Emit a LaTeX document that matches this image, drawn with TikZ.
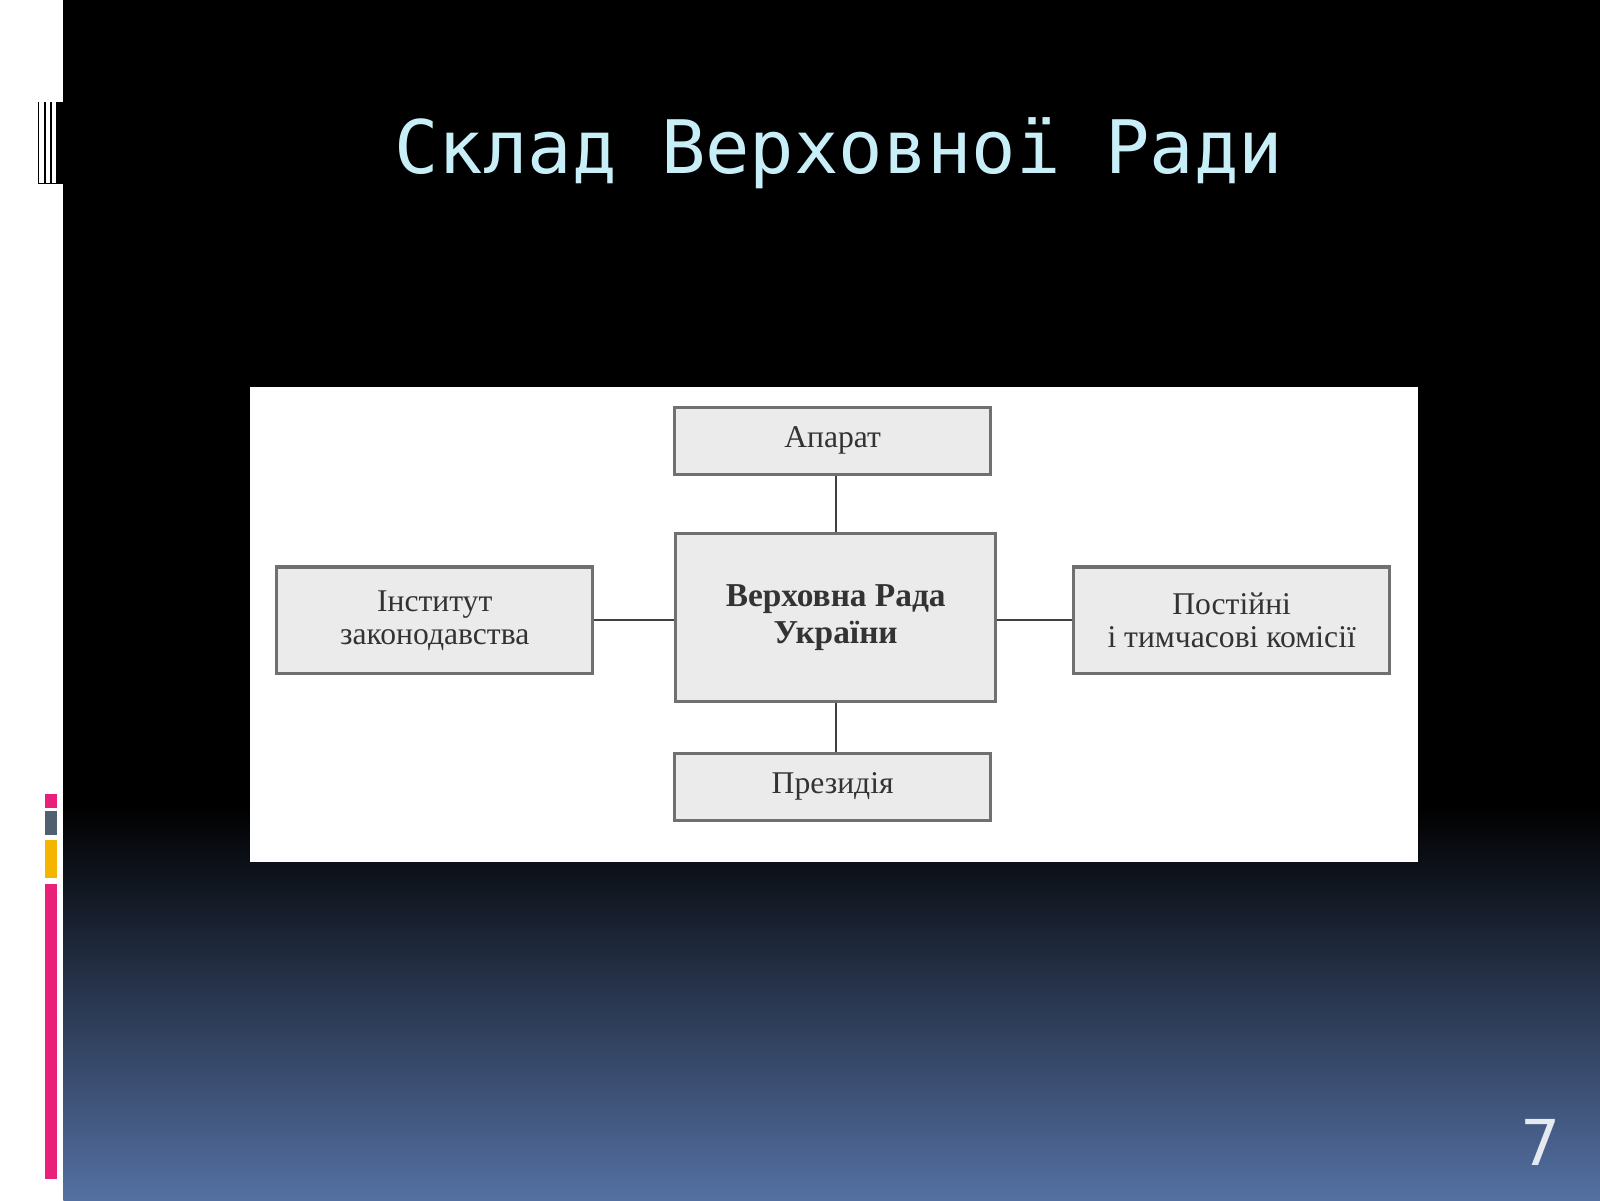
\documentclass[tikz,border=0pt]{standalone}
\usepackage{fontspec}
\setmainfont{Liberation Serif}
\newfontfamily\titlefont{DejaVu Sans Mono}
\newfontfamily\numfont{DejaVu Sans}
\definecolor{titlec}{HTML}{C8EEF8}
\definecolor{botblue}{HTML}{5470A2}
\definecolor{boxfill}{HTML}{EBEBEB}
\definecolor{boxline}{HTML}{707070}
\definecolor{txt}{HTML}{333333}
\definecolor{pinkc}{HTML}{E8207A}
\definecolor{goldc}{HTML}{F5B400}
\definecolor{slatec}{HTML}{506070}
\begin{document}
\begin{tikzpicture}[x=0.010204cm,y=-0.010204cm,
  bx/.style={draw=boxline,line width=0.9pt,fill=boxfill,inner sep=0pt,text=txt,align=center,font=\fontsize{9}{9.5}\selectfont},
  ln/.style={draw=black!75,line width=0.6pt}]
\useasboundingbox (0,0) rectangle (1568,1176);
\fill[black] (0,0) rectangle (1568,1176);
\shade[top color=black,bottom color=botblue] (62,790) rectangle (1568,1176);
\fill[black] (62,0) rectangle (1568,790);
\fill[white] (0,0) rectangle (62,1176);
% left decoration
\foreach \x in {38,44,50,56} \draw[black,line width=0.4pt] (\x,100) -- (\x,180);
\fill[black] (56,100) rectangle (62,180);
\draw[black,line width=0.4pt] (38,180) -- (62,180);
\fill[pinkc] (44,778) rectangle (56,792);
\fill[slatec] (44,795) rectangle (56,818);
\fill[goldc] (44,823) rectangle (56,860);
\fill[pinkc] (44,866) rectangle (56,1155);
% title
\node[text=titlec,font=\titlefont\fontsize{21}{21}\selectfont] (title) at (822,150) {Склад Верховної Ради};
\node[text=white!85!botblue,font=\numfont\fontsize{18}{18}\selectfont] (num) at (1510,1120) {7};
% diagram
\fill[white] (245,379) rectangle (1390,845);
\node[bx,minimum width=3.16cm,minimum height=0.67cm] (ap) at (816,432) {Апарат};
\node[bx,minimum width=3.2cm,minimum height=1.68cm,font=\bfseries\fontsize{9.5}{10.5}\selectfont] (vr) at (819,605) {Верховна Рада\\України};
\node[bx,minimum width=3.16cm,minimum height=1.07cm] (in) at (426,608) {Інститут\\законодавства};
\node[bx,minimum width=3.16cm,minimum height=1.07cm] (pk) at (1207,608) {Постійні\\і тимчасові комісії};
\node[bx,minimum width=3.16cm,minimum height=0.67cm] (pr) at (816,771) {Президія};
\draw[ln] (ap.south -| vr) -- (vr.north);
\draw[ln] (vr.south) -- (pr.north -| vr);
\draw[ln] (in.east) -- (vr.west |- in.east);
\draw[ln] (vr.east |- pk.west) -- (pk.west);
\end{tikzpicture}
\end{document}
